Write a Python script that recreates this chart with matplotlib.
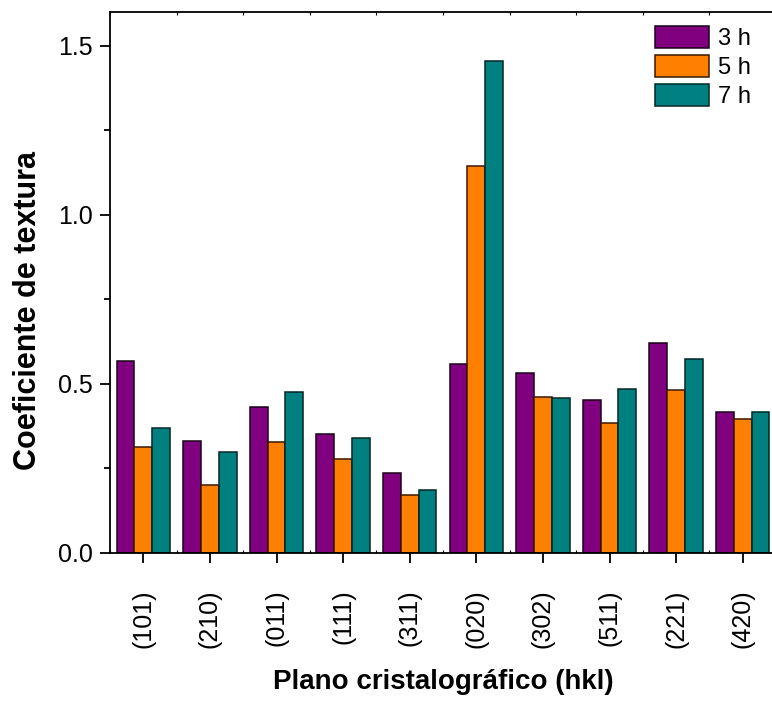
import matplotlib
matplotlib.use("Agg")
import matplotlib.pyplot as plt
import numpy as np
from matplotlib.ticker import MultipleLocator

planes = ["(101)", "(210)", "(011)", "(111)", "(311)",
          "(020)", "(302)", "(511)", "(221)", "(420)"]
h3 = [0.569, 0.330, 0.431, 0.351, 0.236, 0.560, 0.532, 0.453, 0.621, 0.417]
h5 = [0.314, 0.202, 0.328, 0.278, 0.172, 1.144, 0.462, 0.385, 0.481, 0.397]
h7 = [0.370, 0.298, 0.476, 0.340, 0.185, 1.456, 0.459, 0.485, 0.573, 0.416]
series_labels = ["3 h", "5 h", "7 h"]


def main():
    plt.rcParams['font.family'] = ['Liberation Sans', 'DejaVu Sans']
    fig = plt.figure(figsize=(7.72, 7.05), dpi=100)
    ax = fig.add_axes([110 / 772, 152 / 705, 666 / 772, 541 / 705])

    x = np.arange(len(planes))
    w = 0.8 / 3
    colors = ["#800080", "#FF8000", "#008080"]
    edges = ["#1a001a", "#3a1800", "#002626"]
    for i, (vals, lab) in enumerate(zip([h3, h5, h7], series_labels)):
        ax.bar(x + (i - 1) * w, vals, width=w, color=colors[i],
               edgecolor=edges[i], linewidth=1.1, label=lab)

    ax.set_xlim(-0.5, len(planes) - 0.5)
    ax.set_ylim(0, 1.6)
    ax.set_xticks(x)
    ax.set_xticklabels(planes, rotation=90)
    ax.xaxis.set_minor_locator(MultipleLocator(0.5))
    ax.yaxis.set_major_locator(MultipleLocator(0.5))
    ax.yaxis.set_minor_locator(MultipleLocator(0.25))
    ax.yaxis.set_major_formatter(plt.FormatStrFormatter('%.1f'))

    for s in ax.spines.values():
        s.set_linewidth(1.3)
    ax.spines['right'].set_visible(False)

    ax.tick_params(axis='x', which='major', direction='out', length=7.5,
                   width=1.3, labelsize=18, pad=19, top=False)
    ax.tick_params(axis='x', which='minor', direction='in', length=2,
                   width=0.8, top=True, bottom=True)
    ax.tick_params(axis='y', which='major', direction='out', length=7.5,
                   width=1.3, labelsize=18, pad=5)
    ax.tick_params(axis='y', which='minor', direction='out', length=4,
                   width=1.3)

    ax.set_ylabel("Coeficiente de textura", fontsize=22, fontweight='bold')
    ax.yaxis.set_label_coords(-0.1, 0.449)
    ax.set_xlabel("Plano cristalográfico (hkl)", fontsize=20,
                  fontweight='bold')
    ax.xaxis.set_label_coords(0.5, -0.215)

    ax.legend(loc='upper left', bbox_to_anchor=(545 / 666, 0.975),
              frameon=False, fontsize=17, handlelength=2.3,
              handleheight=1.1, handletextpad=0.35, labelspacing=0.2,
              borderpad=0, borderaxespad=0)

    fig.savefig("out.png", dpi=100)


if __name__ == '__main__':
    main()
